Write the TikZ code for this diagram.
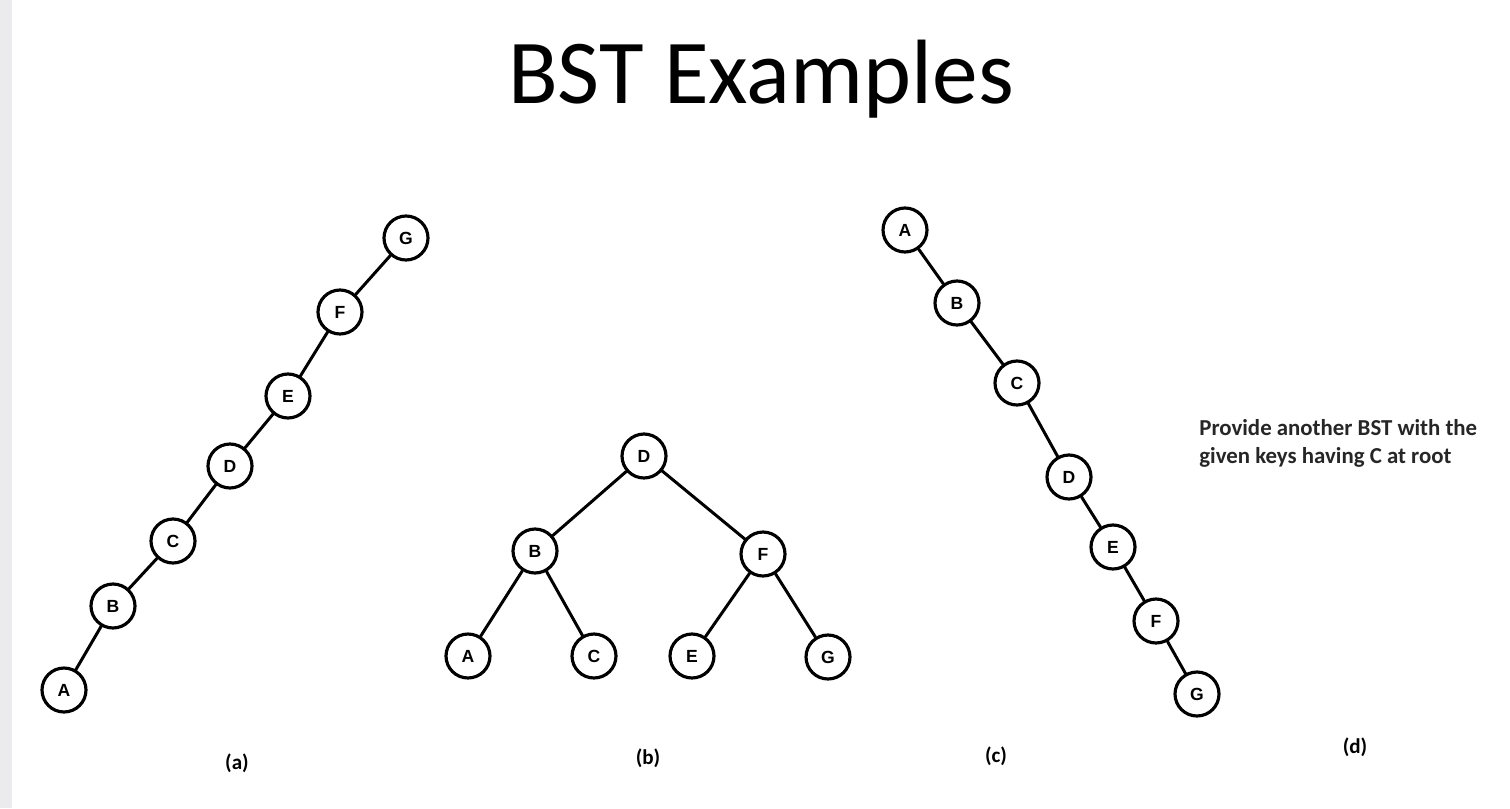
\documentclass[tikz,border=0pt]{standalone}
\usepackage{fontspec}
\setmainfont{Carlito}
\newfontfamily\keyfont{Liberation Sans}
\usetikzlibrary{positioning}
\definecolor{stripgray}{RGB}{235,235,238}
\tikzset{
	keynode/.style={draw=black,line width=1.8pt,circle,minimum size=0.88cm,inner sep=0pt,font=\keyfont\bfseries\fontsize{10}{11}\selectfont},
	treeedge/.style={line width=1.7pt,line cap=round},
	caption/.style={font=\bfseries\fontsize{12}{14}\selectfont}
}
\begin{document}
\begin{tikzpicture}[line cap=round,line join=round,x=0.02cm,y=-0.02cm]
	\useasboundingbox (0,0) rectangle (1510,808);
	\fill[stripgray] (0,0) rectangle (12,808);
	\node (title) at (761,79) {\fontsize{52}{60}\selectfont BST Examples};
	\node[keynode] (aG) at (406,238) {G};
	\node[keynode] (aF) at (340,312) {F};
	\node[keynode] (aE) at (288,396) {E};
	\node[keynode] (aD) at (230,466) {D};
	\node[keynode] (aC) at (173,541) {C};
	\node[keynode] (aB) at (113,606) {B};
	\node[keynode] (aA) at (64,690) {A};
	\draw[treeedge] (aG)--(aF);
	\draw[treeedge] (aF)--(aE);
	\draw[treeedge] (aE)--(aD);
	\draw[treeedge] (aD)--(aC);
	\draw[treeedge] (aC)--(aB);
	\draw[treeedge] (aB)--(aA);
	\node[keynode] (bD) at (644,456) {D};
	\node[keynode] (bB) at (535,551) {B};
	\node[keynode] (bF) at (763,554) {F};
	\node[keynode] (bA) at (468,656) {A};
	\node[keynode] (bC) at (594,656) {C};
	\node[keynode] (bE) at (692,656) {E};
	\node[keynode] (bG) at (828,657) {G};
	\draw[treeedge] (bD)--(bB);
	\draw[treeedge] (bD)--(bF);
	\draw[treeedge] (bB)--(bA);
	\draw[treeedge] (bB)--(bC);
	\draw[treeedge] (bF)--(bE);
	\draw[treeedge] (bF)--(bG);
	\node[keynode] (cA) at (905,230) {A};
	\node[keynode] (cB) at (957,303) {B};
	\node[keynode] (cC) at (1017,383) {C};
	\node[keynode] (cD) at (1069,477) {D};
	\node[keynode] (cE) at (1113,547) {E};
	\node[keynode] (cF) at (1156,621) {F};
	\node[keynode] (cG) at (1197,694) {G};
	\draw[treeedge] (cA)--(cB);
	\draw[treeedge] (cB)--(cC);
	\draw[treeedge] (cC)--(cD);
	\draw[treeedge] (cD)--(cE);
	\draw[treeedge] (cE)--(cF);
	\draw[treeedge] (cF)--(cG);
	\node[caption] (capA) at (237,763) {(a)};
	\node[caption] (capB) at (648,758) {(b)};
	\node[caption] (capC) at (996,756) {(c)};
	\node[caption] (capD) at (1355,747) {(d)};
	\node[anchor=west,align=left,inner sep=0pt,font=\bfseries\fontsize{13}{16}\selectfont,text=black!85] (task) at (1199,443) {Provide another BST with the\\given keys having C at root};
\end{tikzpicture}
\end{document}
